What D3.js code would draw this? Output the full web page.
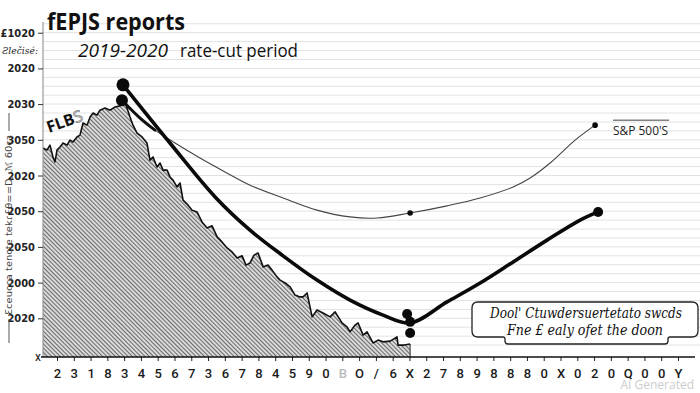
<!DOCTYPE html>
<html><head><meta charset="utf-8">
<script src="https://cdn.jsdelivr.net/npm/d3@7"></script>
<style>body{margin:0;background:#fff}svg{display:block}</style>
</head><body><svg id="c" width="700" height="393"></svg>
<script>
// ---------- data ----------
const xTickLabels = ["2","3","1","8","3","4","5","6","7","3","6","7","8","4","5","9","0","B",
  "O","/","6","X","2","7","8","9","8","8","8","0","X","0","2","0","Q","0","0","Y"];
const yTickValues = [10,20,30,40,50,60,70,80,90];
const yTickLabels = ["2020","2000","2050","2050","2020","3050","2030","2020","£1020"];
const yExtraLabel = "Ƨlečisé:";
const yExtraValue = 85;

// FLBS hatched area (index units, value units)
const areaX = [-0.83,-0.60,-0.42,-0.24,-0.12,0,0.18,0.36,0.60,0.77,0.95,1.19,1.37,1.55,1.79,1.97,2.15,2.38,2.56,2.86,
  3.16,3.46,3.75,4.05,4.35,4.53,4.77,5.07,5.36,5.54,5.72,5.96,6.14,6.32,6.56,6.73,6.91,7.15,7.33,7.51,
  7.81,8.05,8.34,8.64,8.94,9.24,9.54,9.83,10.13,10.43,10.73,11.03,11.26,11.50,11.74,11.98,12.28,12.57,12.81,13.11,
  13.29,13.59,13.89,14.18,14.48,14.66,14.90,15.20,15.49,15.85,16.27,16.57,16.98,17.28,17.46,17.76,17.94,18.24,18.47,18.83,
  19.13,19.43,19.85,20.26,20.32,20.68,21.04];
const areaV = [57.7,57.1,58.5,55.2,53.8,57.1,58.0,59.1,58.5,59.9,59.4,60.8,61.3,64.7,64.1,66.4,67.5,66.9,68.3,68.9,
  68.3,69.2,69.5,70.6,66.4,64.1,61.9,60.8,59.1,54.3,55.2,52.4,53.5,51.5,51.5,49.6,48.7,46.8,47.9,43.1,
  41.7,40.3,39.8,37.0,35.3,35.9,32.8,31.4,29.7,28.6,26.9,27.5,24.9,25.5,27.7,28.3,24.4,24.9,23.5,21.6,
  20.7,19.9,18.8,16.5,16.0,16.0,17.1,10.4,12.3,11.5,10.4,11.8,8.7,7.6,6.2,8.1,8.7,5.3,6.2,3.1,
  3.9,3.4,3.6,4.8,2.5,2.5,2.8];

// thick curve
const thickX = [3.93,6.73,9.42,11.50,13.47,15.49,17.46,19.43,21.04,23.24,25.21,27.18,29.20,31.17,32.24];
const thickV = [75.4,59.1,44.0,34.7,27.5,20.7,15.1,10.9,8.7,14.6,19.9,25.8,31.9,37.5,39.8];

// thin S&P 500 curve
const thinX = [3.87,4.95,5.84,7.03,8.52,10.01,11.50,13.47,15.49,17.46,19.07,21.04,23.24,25.21,27.18,28.19,29.38,30.87,32.06];
const thinV = [71.1,66.1,62.7,59.1,54.9,51.0,47.3,43.7,40.3,38.4,38.1,39.5,41.5,43.7,46.8,49.3,53.5,59.9,64.1];

// markers
const bigDotsX = [3.93,3.87,20.86,21.04,21.04,32.24];
const bigDotsV = [75.4,71.1,11.2,9.0,5.9,39.8];
const bigDotsR = [6.5,6,5,5,5,5];
const smallDotsX = [21.04,32.06];
const smallDotsV = [39.5,64.1];

const titleText = "fEPJS reports";
const subtitleA = "2019-2020";
const subtitleB = "rate-cut period";
const seriesLabel = "S&P 500'S";
const areaLabelA = "FLB";
const areaLabelB = "S";
const yTitle = "Ɛceucca tenctе tekɾ£θ==D, ℳ 60cɜ";
const noteLines = ["Dool' Ctuwdersuertetato swcds", "Fne £ ealy ofet the doon"];
const watermark = "AI Generated";

// ---------- layout ----------
const svg = d3.select("#c");
const axisY = 357, plotLeft = 43, plotRight = 695;
const x = d3.scaleLinear().domain([0, 37]).range([57, 678]);
const y = d3.scaleLinear().domain([0, 100]).range([354, -3]);

const defs = svg.append("defs");
const pat = defs.append("pattern").attr("id","hatch").attr("patternUnits","userSpaceOnUse")
  .attr("width",3).attr("height",3).attr("patternTransform","rotate(-45)");
pat.append("rect").attr("width",3).attr("height",3).attr("fill","#dcdcdc");
pat.append("line").attr("x1",0.5).attr("y1",0).attr("x2",0.5).attr("y2",3).attr("stroke","#6a6a6a").attr("stroke-width",1.1);

// gridlines
const gridVals = d3.range(2.5, 95, 2.5);
svg.append("g").selectAll("line").data(gridVals).join("line")
  .attr("x1", plotLeft).attr("x2", 700)
  .attr("y1", d => y(d)).attr("y2", d => y(d))
  .attr("stroke", "#e2e2e2").attr("stroke-width", 1);

// area
const areaData = areaX.map((d,i)=>[d, areaV[i]]);
svg.append("path").datum(areaData)
  .attr("d", d3.area().x(d=>x(d[0])).y0(axisY).y1(d=>y(d[1])))
  .attr("fill","url(#hatch)");
svg.append("path").datum(areaData)
  .attr("d", d3.line().x(d=>x(d[0])).y(d=>y(d[1])))
  .attr("fill","none").attr("stroke","#111").attr("stroke-width",1.6).attr("stroke-linejoin","round");
svg.append("line").attr("x1", x(areaX[areaX.length-1])).attr("x2", x(areaX[areaX.length-1]))
  .attr("y1", y(areaV[areaV.length-1])).attr("y2", axisY).attr("stroke","#333").attr("stroke-width",1);

// y axis
svg.append("line").attr("x1",plotLeft).attr("x2",plotLeft).attr("y1",y(93)).attr("y2",axisY)
  .attr("stroke","#888").attr("stroke-width",1);
const yAxis = d3.axisLeft(y).tickValues(yTickValues).tickSize(5).tickPadding(3)
  .tickFormat((d,i)=>yTickLabels[i]);
const gy = svg.append("g").attr("transform",`translate(${plotLeft},0)`).call(yAxis);
gy.select(".domain").remove();
gy.selectAll(".tick line").attr("stroke","#333");
gy.selectAll(".tick text").attr("font-family","'DejaVu Sans Condensed','Liberation Sans Narrow',Roboto,sans-serif")
  .attr("font-size",11).attr("font-weight","bold").attr("fill","#222");
svg.append("text").attr("x",38).attr("y",y(yExtraValue)).attr("dy","0.35em").attr("text-anchor","end")
  .attr("font-family","'DejaVu Serif',serif").attr("font-style","italic").attr("font-size",9.5).attr("fill","#222")
  .attr("textLength",36).attr("lengthAdjust","spacingAndGlyphs")
  .text(yExtraLabel);

// y title
const yt = svg.append("g").attr("transform","translate(9,225) rotate(-90)");
yt.append("text").attr("text-anchor","middle").attr("dy","0.35em")
  .attr("font-family","'DejaVu Sans',sans-serif").attr("font-size",9.5).attr("fill","#444")
  .attr("textLength",180).attr("lengthAdjust","spacingAndGlyphs").text(yTitle);
yt.append("line").attr("x1",-118).attr("x2",-94).attr("stroke","#555");
yt.append("line").attr("x1",94).attr("x2",112).attr("stroke","#555");

// x axis
const xAxis = d3.axisBottom(x).tickValues(d3.range(xTickLabels.length)).tickSize(4).tickPadding(8)
  .tickFormat((d,i)=>xTickLabels[i]);
const gx = svg.append("g").attr("transform",`translate(0,${axisY})`).call(xAxis);
gx.select(".domain").remove();
svg.append("line").attr("x1",plotLeft-2).attr("x2",plotRight).attr("y1",axisY).attr("y2",axisY)
  .attr("stroke","#111").attr("stroke-width",1.5);
gx.selectAll(".tick line").attr("stroke","#222");
gx.selectAll(".tick text").attr("font-family","Roboto,'DejaVu Sans',sans-serif").attr("font-size",13)
  .attr("font-weight",500).attr("fill",(d,i)=> xTickLabels[i]==="B" ? "#bbb" : "#1a1a1a");
svg.append("text").attr("x",38).attr("y",axisY).attr("dy","0.35em").attr("text-anchor","middle")
  .attr("font-family","Roboto,sans-serif").attr("font-size",12).attr("fill","#111").text("x");

// thin S&P line
const thinData = thinX.map((d,i)=>[d, thinV[i]]);
const lineGen = d3.line().x(d=>x(d[0])).y(d=>y(d[1])).curve(d3.curveCatmullRom);
svg.append("path").datum(thinData).attr("d", lineGen)
  .attr("fill","none").attr("stroke","#444").attr("stroke-width",1.1);
svg.append("path").datum(thinData.slice(0,3)).attr("d", lineGen)
  .attr("fill","none").attr("stroke","#111").attr("stroke-width",3).attr("stroke-linecap","round");

// thick line
const thickData = thickX.map((d,i)=>[d, thickV[i]]);
svg.append("path").datum(thickData).attr("d", lineGen)
  .attr("fill","none").attr("stroke","#0a0a0a").attr("stroke-width",3.6)
  .attr("stroke-linecap","round").attr("stroke-linejoin","round");

// markers
svg.append("g").selectAll("circle").data(bigDotsX).join("circle")
  .attr("cx",d=>x(d)).attr("cy",(d,i)=>y(bigDotsV[i])).attr("r",(d,i)=>bigDotsR[i]).attr("fill","#0a0a0a");
svg.append("g").selectAll("circle").data(smallDotsX).join("circle")
  .attr("cx",d=>x(d)).attr("cy",(d,i)=>y(smallDotsV[i])).attr("r",2.8).attr("fill","#0a0a0a");

// S&P label with overline
const lblX = x(32.06) + 18, lblY = y(64.1) + 10;
svg.append("text").attr("x",lblX).attr("y",lblY)
  .attr("font-family","'Open Sans',sans-serif").attr("font-size",13).attr("fill","#222")
  .attr("textLength",55).attr("lengthAdjust","spacingAndGlyphs").text(seriesLabel);
svg.append("line").attr("x1",lblX).attr("x2",lblX+56).attr("y1",lblY-15).attr("y2",lblY-15)
  .attr("stroke","#444").attr("stroke-width",1);

// FLBS label
const fl = svg.append("text").attr("transform","translate(49,133) rotate(-20)")
  .attr("font-family","'Open Sans',sans-serif").attr("font-weight","bold").attr("font-size",16);
fl.append("tspan").attr("fill","#111").text(areaLabelA);
fl.append("tspan").attr("fill","#fff").attr("stroke","#888").attr("stroke-width",0.8).attr("font-weight","normal").text(areaLabelB);

// title
svg.append("text").attr("x",47).attr("y",30)
  .attr("font-family","'Open Sans',sans-serif").attr("font-weight","bold").attr("font-size",24).attr("fill","#111")
  .attr("textLength",138).attr("lengthAdjust","spacingAndGlyphs").text(titleText);
const st = svg.append("text").attr("x",78).attr("y",57)
  .attr("font-family","'Open Sans',sans-serif").attr("font-size",18).attr("fill","#111");
st.append("tspan").attr("font-style","italic").attr("textLength",90).attr("lengthAdjust","spacingAndGlyphs").text(subtitleA);
st.append("tspan").attr("dx",12).attr("textLength",118).attr("lengthAdjust","spacingAndGlyphs").text(subtitleB);

// note box
const bx0 = 472, bx1 = 698, by0 = 302, by1 = 337, nb = 344, nx0 = 505, nx1 = 668, r = 6;
const p = d3.path();
p.moveTo(bx0+r, by0); p.lineTo(bx1-r, by0); p.quadraticCurveTo(bx1, by0, bx1, by0+r);
p.lineTo(bx1, by1-r); p.quadraticCurveTo(bx1, by1, bx1-r, by1);
p.lineTo(nx1+2, by1); p.quadraticCurveTo(nx1, by1, nx1, by1+2);
p.lineTo(nx1, nb-3); p.quadraticCurveTo(nx1, nb, nx1-3, nb);
p.lineTo(nx0+3, nb); p.quadraticCurveTo(nx0, nb, nx0, nb-3);
p.lineTo(nx0, by1+2); p.quadraticCurveTo(nx0, by1, nx0-2, by1);
p.lineTo(bx0+r, by1); p.quadraticCurveTo(bx0, by1, bx0, by1-r);
p.lineTo(bx0, by0+r); p.quadraticCurveTo(bx0, by0, bx0+r, by0); p.closePath();
svg.append("path").attr("d", p.toString()).attr("fill","#fff").attr("stroke","#222").attr("stroke-width",1.3);
svg.append("text").attr("x",490).attr("y",318)
  .attr("font-family","'DejaVu Serif','Liberation Serif',serif").attr("font-style","italic").attr("font-size",14).attr("fill","#111")
  .attr("textLength",192).attr("lengthAdjust","spacingAndGlyphs").text(noteLines[0]);
svg.append("text").attr("x",507).attr("y",335)
  .attr("font-family","'DejaVu Serif','Liberation Serif',serif").attr("font-style","italic").attr("font-size",14).attr("fill","#111")
  .attr("textLength",156).attr("lengthAdjust","spacingAndGlyphs").text(noteLines[1]);

// watermark
svg.append("text").attr("x",694).attr("y",389).attr("text-anchor","end")
  .attr("font-family","'Open Sans',sans-serif").attr("font-size",12).attr("fill","#cccccc").text(watermark);
</script></body></html>
